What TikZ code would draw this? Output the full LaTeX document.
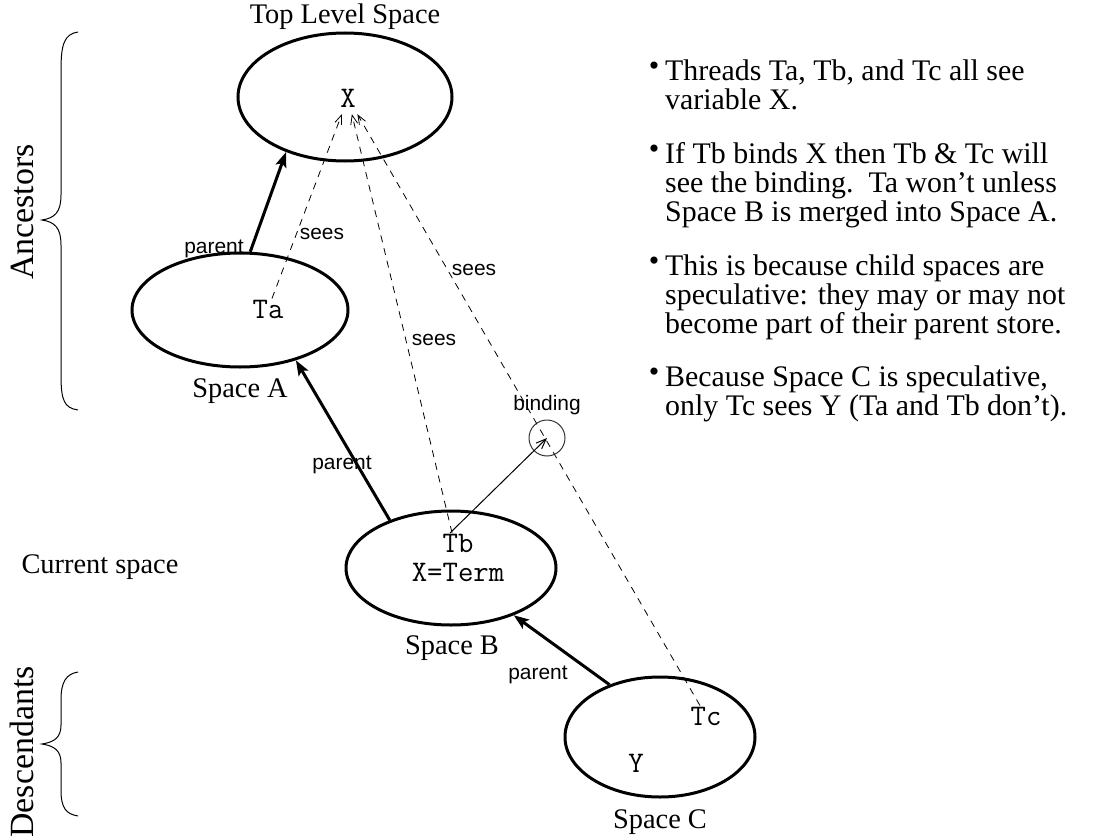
\documentclass[tikz,border=0pt]{standalone}
\usepackage{fontspec}
\setmainfont{Liberation Serif}
\setsansfont{Liberation Sans}
\usetikzlibrary{shapes.geometric,arrows.meta}
\begin{document}
\begin{tikzpicture}[x=1bp,y=-1bp,
  space/.style={draw, line width=3bp, ellipse, inner sep=0pt},
  serif/.style={font=\fontsize{28.5}{29}\selectfont, inner sep=1bp},
  bigserif/.style={font=\fontsize{34}{36}\selectfont, inner sep=1bp},
  mono/.style={font=\fontsize{30}{29}\selectfont\ttfamily, inner sep=1bp, anchor=base},
  sans/.style={font=\fontsize{21}{23}\selectfont\sffamily, inner sep=1bp},
  parentarrow/.style={line width=3bp, -{Stealth[length=15bp,width=11bp,inset=3bp]}},
  seesline/.style={line width=0.8bp, dash pattern=on 7bp off 6bp, -{Straight Barb[length=9bp,width=7bp]}},
  bindarrow/.style={line width=1bp, -{Straight Barb[length=10bp,width=8bp]}},
  bline/.style={font=\fontsize{30}{30}\selectfont, anchor=base west, inner sep=0pt},
  bdot/.style={font=\fontsize{30}{30}\selectfont, anchor=base, inner sep=0pt},
  brace/.style={line width=1bp},
]
\useasboundingbox (0,0) rectangle (1116,840);

% spaces
\node[space, minimum width=214bp, minimum height=128bp] (top) at (345,97) {};
\node[space, minimum width=216bp, minimum height=114bp] (A) at (240,310) {};
\node[space, minimum width=210bp, minimum height=114bp] (B) at (451,568) {};
\node[space, minimum width=190bp, minimum height=120bp] (C) at (660,737) {};

% titles
\node[serif] (ttop) at (345,17) {Top Level Space};
\node[serif] (tA) at (240,391) {Space A};
\node[serif] (tB) at (452,648) {Space B};
\node[serif] (tC) at (660,822) {Space C};
\node[serif] (cur) at (100,567) {Current space};

% contents
\node[mono, inner sep=7bp] (X) at (348,107) {X};
\node[mono] (Ta) at (268,318) {Ta};
\node[mono, align=center, anchor=north] (Tb) at (458,533) {Tb\\X=Term};
\node[mono] (Tc) at (706,725) {Tc};
\node[mono] (Y) at (636,772) {Y};

% binding
\node[draw=black!80, line width=1bp, circle, minimum size=36bp, inner sep=0pt] (bind) at (547,438) {};
\node[sans] (lbind) at (547,405) {binding};

% parent arrows
\draw[parentarrow] (A.80) -- (top.-137);
\draw[parentarrow] (B.142) -- (A.-42);
\draw[parentarrow] (C.134) -- (B.-37);
\node[sans] (p1) at (214,249) {parent};
\node[sans] (p2) at (342,465) {parent};
\node[sans] (p3) at (538,675) {parent};

% sees lines
\draw[seesline] (Tb) -- (X);
\draw[seesline] (Ta) -- (X);
\draw[seesline] (Tc) -- (X);
\node[sans] (s1) at (322,234) {sees};
\node[sans] (s2) at (474,270) {sees};
\node[sans] (s3) at (434,340) {sees};

\draw[bindarrow] ([xshift=-8bp]Tb.north) -- (bind.center);

% braces
\draw[brace] (78,32) .. controls (64,34) and (61,45) .. (61,70) -- (61,195)
  .. controls (61,212) and (55,218) .. (42,220)
  .. controls (55,222) and (61,228) .. (61,245) -- (61,375)
  .. controls (61,400) and (64,408) .. (78,410);
\draw[brace] (78,672) .. controls (66,674) and (61,682) .. (61,700) -- (61,725)
  .. controls (61,737) and (55,742) .. (42,744)
  .. controls (55,746) and (61,751) .. (61,763) -- (61,790)
  .. controls (61,808) and (66,814) .. (78,816);
\node[bigserif, rotate=90] (anc) at (22,212) {Ancestors};
\node[bigserif, rotate=90] (desc) at (22,752) {Descendants};

% bullet list
\node[bdot] (b1) at (654,75) {•};
\node[bline] (l11) at (665,80) {Threads Ta, Tb, and Tc all see};
\node[bline] (l12) at (665,109) {variable X.};
\node[bdot] (b2) at (654,158) {•};
\node[bline] (l21) at (665,163) {If Tb binds X then Tb \& Tc will};
\node[bline] (l22) at (665,192) {see the binding.\ \ Ta won't unless};
\node[bline] (l23) at (665,221) {Space B is merged into Space A.};
\node[bdot] (b3) at (654,270) {•};
\node[bline] (l31) at (665,275) {This is because child spaces are};
\node[bline] (l32) at (665,304) {speculative: they may or may not};
\node[bline] (l33) at (665,333) {become part of their parent store.};
\node[bdot] (b4) at (654,381) {•};
\node[bline] (l41) at (665,386) {Because Space C is speculative,};
\node[bline] (l42) at (665,415) {only Tc sees Y (Ta and Tb don't).};
\end{tikzpicture}
\end{document}
